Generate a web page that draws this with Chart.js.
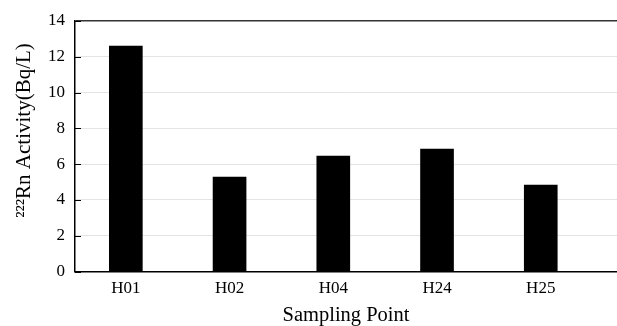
<!DOCTYPE html>
<html>
<head>
<meta charset="utf-8">
<script src="https://cdn.jsdelivr.net/npm/chart.js@4/dist/chart.umd.min.js"></script>
<style>
  html, body { margin: 0; padding: 0; background: #fff; overflow: hidden; }
  #wrap { width: 617px; height: 326px; position: relative; }
</style>
</head>
<body>
<div id="wrap"><canvas id="c"></canvas></div>
<script>
const categories = ["H01", "H02", "H04", "H24", "H25"];
const radonActivity = [12.6, 5.28, 6.45, 6.84, 4.83];
const yTicks = [0, 2, 4, 6, 8, 10, 12, 14];
const xTitle = "Sampling Point";
const yTitle = "      \u00B2\u00B2\u00B2Rn Activity(Bq/L)";

const FONT = "'Liberation Serif', 'Times New Roman', serif";

const innerTicks = {
  id: 'innerTicks',
  afterDraw(chart) {
    const y = chart.scales.y, a = chart.chartArea, ctx = chart.ctx;
    ctx.save();
    ctx.strokeStyle = '#000';
    ctx.lineWidth = 1;
    yTicks.forEach(v => {
      const py = Math.round(y.getPixelForValue(v)) + 0.5;
      ctx.beginPath();
      ctx.moveTo(a.left, py);
      ctx.lineTo(a.left + 6, py);
      ctx.stroke();
    });
    ctx.restore();
  }
};

new Chart(document.getElementById('c'), {
  type: 'bar',
  data: {
    datasets: [{
      data: categories.map((c, i) => ({ x: i, y: radonActivity[i] })),
      backgroundColor: '#000',
      borderWidth: 0,
      barThickness: 33
    }]
  },
  options: {
    responsive: true,
    maintainAspectRatio: false,
    animation: false,
    layout: { padding: { top: 21, right: 0, bottom: 0, left: 0 } },
    plugins: { legend: { display: false }, tooltip: { enabled: false } },
    scales: {
      x: {
        type: 'linear',
        offset: false,
        min: -0.49,
        max: 4.735,
        afterBuildTicks(scale) { scale.ticks = categories.map((c, i) => ({ value: i })); },
        afterFit(scale) { scale.height = 54.5; },
        grid: { display: false, drawTicks: false, offset: false },
        border: { display: true, color: '#000', width: 1.5 },
        ticks: {
          padding: 7,
          color: '#000',
          font: { family: FONT, size: 17 },
          callback: (v) => categories[v] ?? ''
        },
        title: {
          display: true,
          text: xTitle,
          color: '#000',
          font: { family: FONT, size: 20.5 },
          padding: { top: 0, bottom: -2 }
        }
      },
      y: {
        min: 0,
        max: 14,
        afterBuildTicks(scale) { scale.ticks = yTicks.map(v => ({ value: v })); },
        afterFit(scale) { scale.width = 75; },
        grid: {
          drawTicks: false,
          color: (ctx) => (ctx.tick && ctx.tick.value === 14) ? '#333' : '#e4e4e4',
          lineWidth: (ctx) => (ctx.tick && ctx.tick.value === 14) ? 1.5 : 1
        },
        border: { display: true, color: '#000', width: 1.5 },
        ticks: {
          padding: 10,
          color: '#000',
          font: { family: FONT, size: 17 }
        },
        title: {
          display: true,
          text: yTitle,
          color: '#000',
          font: { family: FONT, size: 21 },
          padding: { top: 12, bottom: 0 }
        }
      }
    }
  },
  plugins: [innerTicks]
});
</script>
</body>
</html>
